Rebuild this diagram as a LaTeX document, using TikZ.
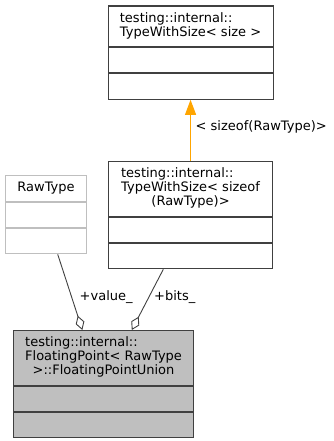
\documentclass[tikz,border=0pt]{standalone}
\usepackage{fontspec}
\setmainfont{DejaVu Sans}
\usetikzlibrary{arrows.meta,calc}

\definecolor{edgegray}{HTML}{404040}
\definecolor{boxgray}{HTML}{BFBFBF}
\definecolor{tplorange}{HTML}{FFA500}
\newcommand{\umlfont}{\fontsize{13}{14}\selectfont}

\begin{document}
\begin{tikzpicture}[x=1pt,y=-1pt,
  part/.style={rectangle, draw=edgegray, line width=1.1pt, inner sep=0pt,
    anchor=north west, font=\umlfont},
  rawpart/.style={part, draw=boxgray},
  unipart/.style={part, fill=boxgray},
  lbl/.style={inner sep=0pt, anchor=west, font=\umlfont},
  tplarrow/.style={draw=tplorange, line width=1pt,
    -{Triangle[length=15pt,width=11pt,fill=tplorange]}},
  member/.style={draw=edgegray, line width=0.9pt,
    -{Diamond[open,length=15pt,width=9pt]}}]

\useasboundingbox (0,0) rectangle (333,441);

% testing::internal::TypeWithSize< size >
\node[part, minimum width=165pt, minimum height=40.5pt] (tws) at (107.5,5.5)
  {\begin{tabular}{@{}l@{}}testing::internal::\\TypeWithSize< size >\end{tabular}};
\node[part, minimum width=165pt, minimum height=25pt] (tws-a) at (tws.south west) {};
\node[part, minimum width=165pt, minimum height=25.5pt] (tws-b) at (tws-a.south west) {};

% testing::internal::TypeWithSize< sizeof(RawType)>
\node[part, minimum width=164pt, minimum height=55pt] (mid) at (108,161)
  {\begin{tabular}{@{}l@{}}testing::internal::\\TypeWithSize< sizeof\\
   \multicolumn{1}{@{}c@{}}{(RawType)>}\end{tabular}};
\node[part, minimum width=164pt, minimum height=25pt] (mid-a) at (mid.south west) {};
\node[part, minimum width=164pt, minimum height=25pt] (mid-b) at (mid-a.south west) {};

% RawType
\node[rawpart, minimum width=81pt, minimum height=26pt] (raw) at (5,175) {RawType};
\node[rawpart, minimum width=81pt, minimum height=25pt] (raw-a) at (raw.south west) {};
\node[rawpart, minimum width=81pt, minimum height=25pt] (raw-b) at (raw-a.south west) {};

% testing::internal::FloatingPoint< RawType >::FloatingPointUnion
\node[unipart, minimum width=180pt, minimum height=55pt] (uni) at (13,330)
  {\begin{tabular}{@{}l@{}}testing::internal::\\FloatingPoint< RawType\\
   \multicolumn{1}{@{}c@{}}{>::FloatingPointUnion}\end{tabular}};
\node[unipart, minimum width=180pt, minimum height=25pt] (uni-a) at (uni.south west) {};
\node[unipart, minimum width=180pt, minimum height=25pt] (uni-b) at (uni-a.south west) {};

% template instantiation
\draw[tplarrow] (mid.north) -- (tws-b.south);
\node[lbl] (tpl-lbl) at (195.5,127) {< sizeof(RawType)>};

% union members
\draw[member] ($(raw-b.south west)!0.642!(raw-b.south east)$)
  -- ($(uni.north west)!0.383!(uni.north east)$);
\node[lbl] (value-lbl) at (79.5,297) {+value\_};
\draw[member] ($(mid-b.south west)!0.335!(mid-b.south east)$)
  -- ($(uni.north west)!0.656!(uni.north east)$);
\node[lbl] (bits-lbl) at (154,297) {+bits\_};

\end{tikzpicture}
\end{document}
